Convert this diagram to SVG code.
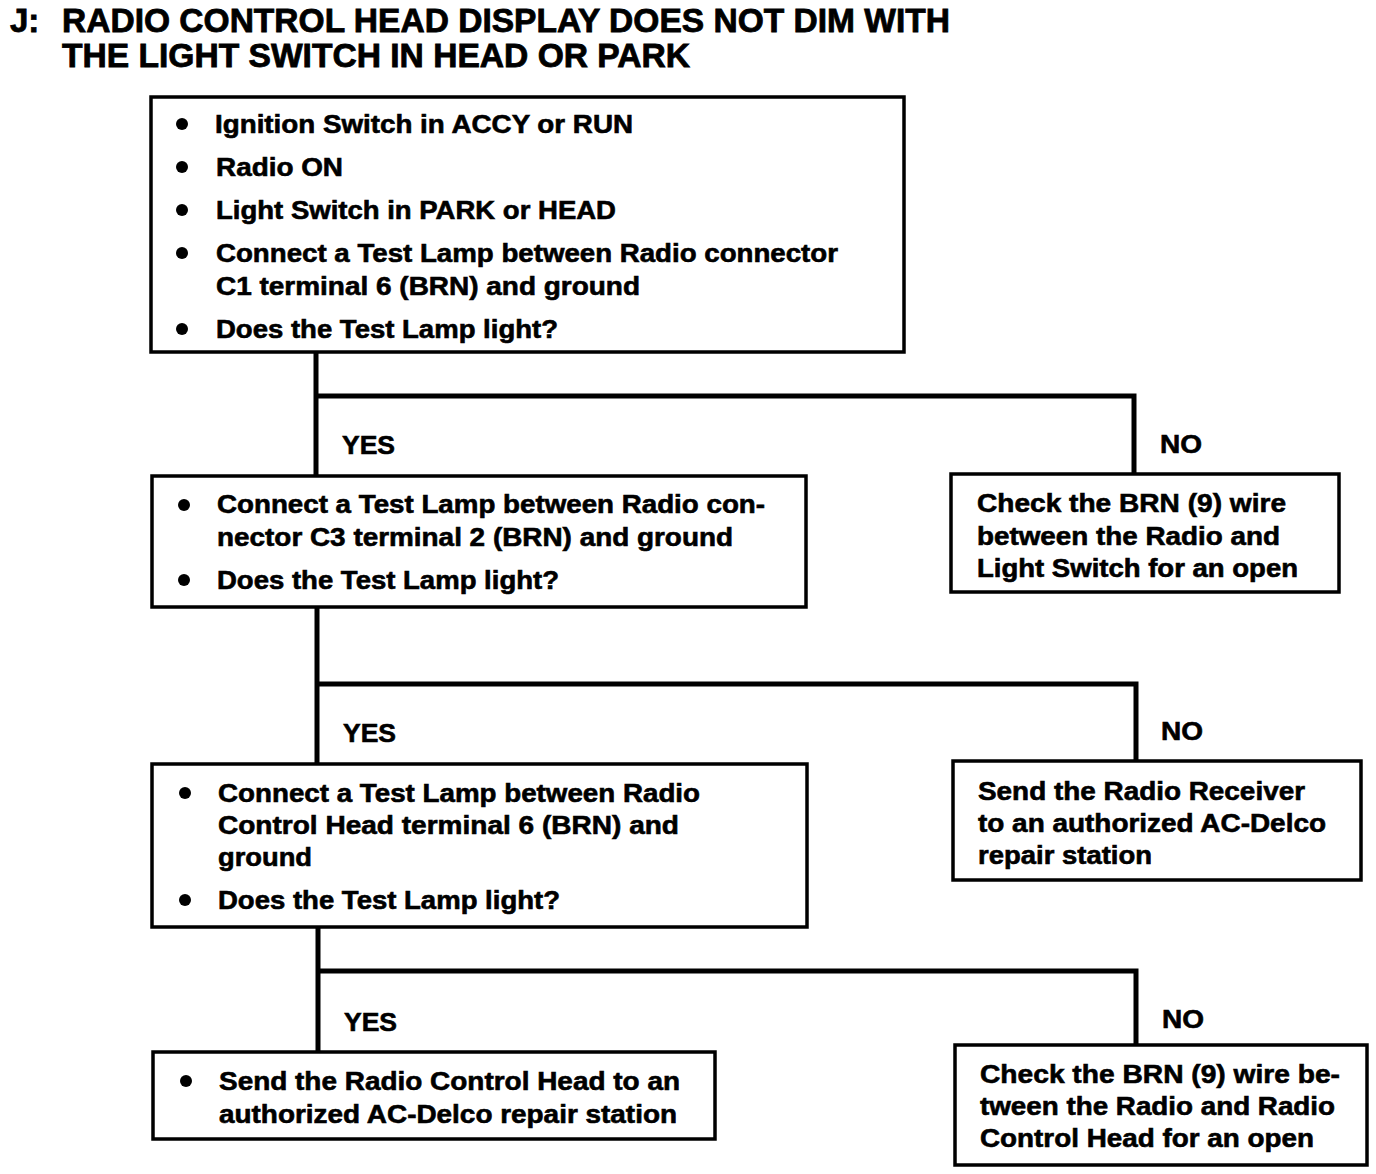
<svg xmlns="http://www.w3.org/2000/svg" width="1376" height="1174" viewBox="0 0 1376 1174">
<style>
text{font-family:"Liberation Sans",Arial,sans-serif;font-weight:bold;fill:#000;stroke:#000;stroke-width:0.6}
.t{font-size:33px;stroke-width:0.8}
.b{font-size:25px}
.box{fill:#fff;stroke:#000;stroke-width:3.5}
.con path{fill:none;stroke:#000;stroke-width:5}
.dot{fill:#000}
</style>
<rect width="1376" height="1174" fill="#fff"/>
<g id="title">
<text class="t" x="10" y="32">J:</text>
<text class="t" x="62" y="32" textLength="888" lengthAdjust="spacingAndGlyphs">RADIO CONTROL HEAD DISPLAY DOES NOT DIM WITH</text>
<text class="t" x="62" y="67" textLength="628" lengthAdjust="spacingAndGlyphs">THE LIGHT SWITCH IN HEAD OR PARK</text>
</g>
<g class="con" id="connectors">
<path d="M316 352V476M316 396H1134V474"/>
<path d="M317 607V764M317 684H1136V761"/>
<path d="M318 927V1052M318 971H1136V1045"/>
<text class="b" x="342" y="454" textLength="53" lengthAdjust="spacingAndGlyphs">YES</text>
<text class="b" x="1160" y="453" textLength="42" lengthAdjust="spacingAndGlyphs">NO</text>
<text class="b" x="343" y="742" textLength="53" lengthAdjust="spacingAndGlyphs">YES</text>
<text class="b" x="1161" y="740" textLength="42" lengthAdjust="spacingAndGlyphs">NO</text>
<text class="b" x="344" y="1031" textLength="53" lengthAdjust="spacingAndGlyphs">YES</text>
<text class="b" x="1162" y="1028" textLength="42" lengthAdjust="spacingAndGlyphs">NO</text>
</g>
<g id="box1">
<rect class="box" x="151" y="97" width="753" height="255"/>
<circle class="dot" cx="182" cy="124" r="6"/>
<circle class="dot" cx="182" cy="167" r="6"/>
<circle class="dot" cx="182" cy="210" r="6"/>
<circle class="dot" cx="182" cy="253" r="6"/>
<circle class="dot" cx="182" cy="329" r="6"/>
<text class="b" x="215" y="133" textLength="418" lengthAdjust="spacingAndGlyphs">Ignition Switch in ACCY or RUN</text>
<text class="b" x="216" y="176" textLength="127" lengthAdjust="spacingAndGlyphs">Radio ON</text>
<text class="b" x="216" y="219" textLength="400" lengthAdjust="spacingAndGlyphs">Light Switch in PARK or HEAD</text>
<text class="b" x="216" y="262" textLength="622" lengthAdjust="spacingAndGlyphs">Connect a Test Lamp between Radio connector</text>
<text class="b" x="216" y="295" textLength="424" lengthAdjust="spacingAndGlyphs">C1 terminal 6 (BRN) and ground</text>
<text class="b" x="216" y="338" textLength="342" lengthAdjust="spacingAndGlyphs">Does the Test Lamp light?</text>
</g>
<g id="box2">
<rect class="box" x="152" y="476" width="654" height="131"/>
<circle class="dot" cx="184" cy="505" r="6"/>
<circle class="dot" cx="184" cy="580" r="6"/>
<text class="b" x="217" y="513" textLength="548" lengthAdjust="spacingAndGlyphs">Connect a Test Lamp between Radio con-</text>
<text class="b" x="217" y="546" textLength="516" lengthAdjust="spacingAndGlyphs">nector C3 terminal 2 (BRN) and ground</text>
<text class="b" x="217" y="589" textLength="342" lengthAdjust="spacingAndGlyphs">Does the Test Lamp light?</text>
</g>
<g id="no1">
<rect class="box" x="951" y="474" width="388" height="118"/>
<text class="b" x="977" y="512" textLength="309" lengthAdjust="spacingAndGlyphs">Check the BRN (9) wire</text>
<text class="b" x="977" y="545" textLength="303" lengthAdjust="spacingAndGlyphs">between the Radio and</text>
<text class="b" x="977" y="577" textLength="321" lengthAdjust="spacingAndGlyphs">Light Switch for an open</text>
</g>
<g id="box3">
<rect class="box" x="152" y="764" width="655" height="163"/>
<circle class="dot" cx="185" cy="793" r="6"/>
<circle class="dot" cx="185" cy="900" r="6"/>
<text class="b" x="218" y="802" textLength="482" lengthAdjust="spacingAndGlyphs">Connect a Test Lamp between Radio</text>
<text class="b" x="218" y="834" textLength="461" lengthAdjust="spacingAndGlyphs">Control Head terminal 6 (BRN) and</text>
<text class="b" x="218" y="866" textLength="94" lengthAdjust="spacingAndGlyphs">ground</text>
<text class="b" x="218" y="909" textLength="342" lengthAdjust="spacingAndGlyphs">Does the Test Lamp light?</text>
</g>
<g id="no2">
<rect class="box" x="953" y="761" width="408" height="119"/>
<text class="b" x="978" y="800" textLength="327" lengthAdjust="spacingAndGlyphs">Send the Radio Receiver</text>
<text class="b" x="978" y="832" textLength="348" lengthAdjust="spacingAndGlyphs">to an authorized AC-Delco</text>
<text class="b" x="978" y="864" textLength="174" lengthAdjust="spacingAndGlyphs">repair station</text>
</g>
<g id="box4">
<rect class="box" x="153" y="1052" width="562" height="87"/>
<circle class="dot" cx="186" cy="1081" r="6"/>
<text class="b" x="219" y="1090" textLength="461" lengthAdjust="spacingAndGlyphs">Send the Radio Control Head to an</text>
<text class="b" x="219" y="1123" textLength="458" lengthAdjust="spacingAndGlyphs">authorized AC-Delco repair station</text>
</g>
<g id="no3">
<rect class="box" x="955" y="1045" width="412" height="120"/>
<text class="b" x="980" y="1083" textLength="360" lengthAdjust="spacingAndGlyphs">Check the BRN (9) wire be-</text>
<text class="b" x="980" y="1115" textLength="355" lengthAdjust="spacingAndGlyphs">tween the Radio and Radio</text>
<text class="b" x="980" y="1147" textLength="334" lengthAdjust="spacingAndGlyphs">Control Head for an open</text>
</g>
</svg>
